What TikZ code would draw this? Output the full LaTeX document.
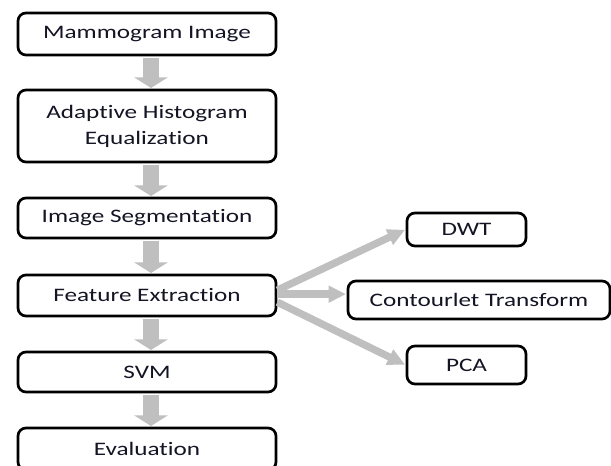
\documentclass[tikz,border=0pt]{standalone}
\usepackage{fontspec}
\setmainfont{Carlito}[FakeStretch=1.32, Ligatures=NoCommon]
\usetikzlibrary{arrows.meta}
\definecolor{arrowgray}{HTML}{BFBFBF}
\definecolor{txt}{HTML}{141424}
\begin{document}
\begin{tikzpicture}[x=0.75pt,y=-0.75pt,
  box/.style={draw=black, line width=2pt, rounded corners=6pt, fill=white,
    text=txt, align=center, inner sep=0pt,
    font=\fontsize{14.3}{19.5}\selectfont},
  leftbox/.style={box, minimum width=193.5pt},
  vflow/.style={arrowgray, line width=12pt,
    -{Triangle[width=25pt,length=8pt]}, shorten <=1pt, shorten >=0.5pt},
  branch/.style={arrowgray, line width=5.5pt,
    -{Triangle[width=12pt,length=13pt]}, shorten >=0.5pt}]
\useasboundingbox (0,0) rectangle (611,466);
\node[leftbox, minimum height=31.5pt] (mam) at (147,34) {Mammogram Image};
\node[leftbox, minimum height=54pt] (ahe) at (147,126) {Adaptive Histogram\\Equalization};
\node[leftbox, minimum height=30pt] (seg) at (147,218) {Image Segmentation};
\node[leftbox, minimum height=30.75pt] (fe) at (147,295.5) {Feature Extraction};
\node[leftbox, minimum height=30pt] (svm) at (147,372) {SVM};
\node[leftbox, minimum height=31.5pt] (ev) at (147,449) {Evaluation};
\node[box, minimum width=89.25pt, minimum height=24.75pt] (dwt) at (466.5,229.5) {DWT};
\node[box, minimum width=196.5pt, minimum height=28.5pt] (ct) at (479,300) {Contourlet Transform};
\node[box, minimum width=89.25pt, minimum height=28.5pt] (pca) at (466.5,365) {PCA};
\coordinate (ax) at (151,0);
\draw[vflow] (mam.south -| ax) -- (ahe.north -| ax);
\draw[vflow] (ahe.south -| ax) -- (seg.north -| ax);
\draw[vflow] (seg.south -| ax) -- (fe.north -| ax);
\draw[vflow] (fe.south -| ax) -- (svm.north -| ax);
\draw[vflow] (svm.south -| ax) -- (ev.north -| ax);
\draw[branch] ([yshift=4pt]fe.east) -- (dwt.west);
\draw[branch] ([yshift=1pt]fe.east) -- ([yshift=1pt]fe.east -| ct.west);
\draw[branch] ([yshift=-5pt]fe.east) -- (pca.west);
\end{tikzpicture}
\end{document}
